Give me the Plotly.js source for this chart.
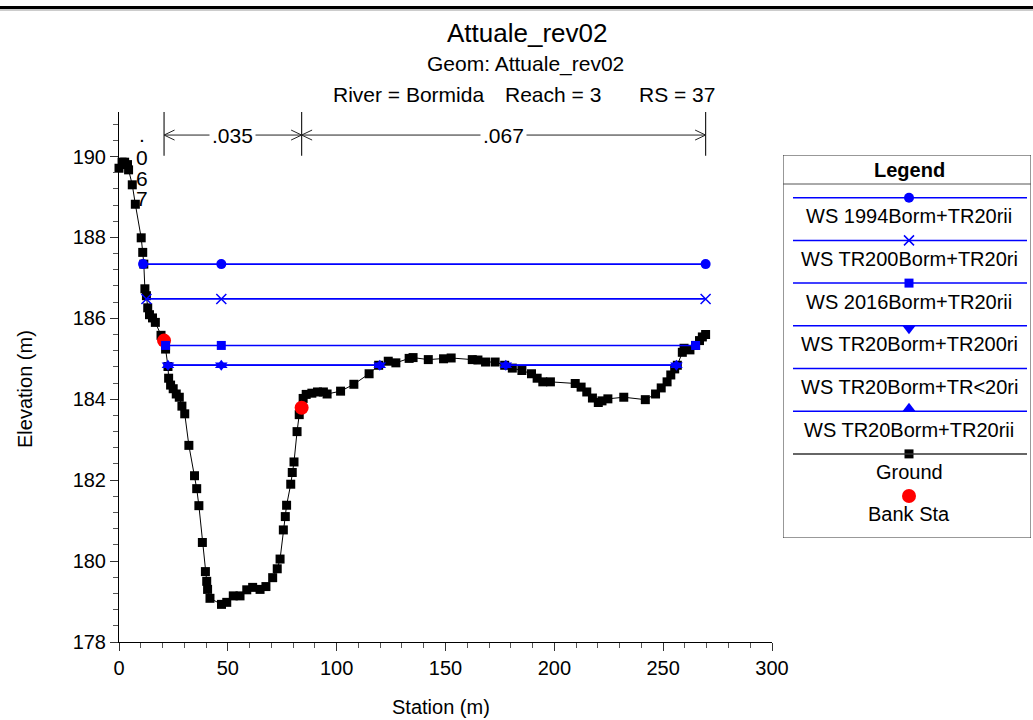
<!DOCTYPE html>
<html><head><meta charset="utf-8">
<script src="https://cdn.plot.ly/plotly-3.0.1.min.js"></script>
<style>html,body{margin:0;padding:0;background:#fff}#chart{width:1033px;height:720px}</style>
</head><body><div id="chart"></div>
<script>
// ---------------- data ----------------
const groundStation = [0, 1.4, 2.6, 3.9, 4.4, 6.1, 7.5, 10.2, 10.9, 11.4, 11.9, 12.6, 13.2, 14.0, 15.4, 16.7, 19.3, 21.4, 22.5, 22.8, 23.7, 24.9, 26.3, 27.7, 28.9, 30.2, 32.1, 34.7, 35.7, 36.7, 38.3, 39.7, 40.3, 40.7, 41.8, 47.1, 49.5, 52.5, 55.6, 58.7, 61.4, 64.8, 67.5, 70.6, 72.7, 74.0, 75.5, 76.4, 77.0, 78.9, 79.6, 80.4, 81.8, 82.8, 84.6, 86.0, 88.6, 91.2, 93.9, 95.6, 101.8, 107.9, 114.9, 119.3, 123.7, 127.2, 133.3, 135.1, 142.1, 149.1, 152.6, 162.3, 164.9, 168.4, 172.8, 177.2, 180.7, 185.1, 189.5, 192.1, 194.7, 198.2, 209.6, 212.3, 214.9, 217.5, 220.2, 221.9, 224.6, 231.9, 241.8, 246.5, 249.1, 251.8, 253.5, 255.3, 256.5, 258.8, 259.6, 262.3, 264.9, 266.7, 268.0, 269.5];
const groundElevation = [189.71, 189.86, 189.86, 189.80, 189.67, 189.30, 188.82, 187.99, 187.63, 187.34, 186.73, 186.56, 186.26, 186.09, 186.01, 185.90, 185.58, 185.24, 184.81, 184.52, 184.35, 184.26, 184.13, 184.05, 183.83, 183.64, 182.86, 182.11, 181.79, 181.37, 180.46, 179.74, 179.50, 179.30, 179.08, 178.93, 178.98, 179.14, 179.14, 179.29, 179.35, 179.30, 179.37, 179.59, 179.81, 180.05, 180.77, 181.10, 181.38, 181.90, 182.19, 182.45, 183.20, 183.62, 184.02, 184.12, 184.15, 184.18, 184.18, 184.13, 184.20, 184.37, 184.63, 184.84, 184.94, 184.90, 185.01, 185.03, 184.98, 185.00, 185.02, 184.98, 184.97, 184.92, 184.92, 184.84, 184.77, 184.71, 184.63, 184.52, 184.43, 184.43, 184.39, 184.30, 184.18, 184.03, 183.92, 183.96, 184.01, 184.05, 183.99, 184.13, 184.28, 184.43, 184.60, 184.75, 184.84, 185.16, 185.26, 185.22, 185.33, 185.45, 185.54, 185.60];
const bankStation = [20.7, 83.9];
const bankElevation = [185.45, 183.79];

const ws1994Station = [11.05, 47.0, 269.5];
const ws1994Elevation = [187.34, 187.34, 187.34];
const wsTR200Station = [12.6, 47.0, 269.5];
const wsTR200Elevation = [186.48, 186.48, 186.48];
const ws2016Station = [21.4, 47.0, 264.9];
const ws2016Elevation = [185.33, 185.33, 185.33];
const wsTR20Station = [22.5, 47.0, 119.8, null, 177.7, 256.1];
const wsTR20Elevation = [184.84, 184.84, 184.84, null, 184.84, 184.84];

const seriesNames = ['WS 1994Borm+TR20rii', 'WS TR200Borm+TR20ri', 'WS 2016Borm+TR20rii',
  'WS TR20Borm+TR200ri', 'WS TR20Borm+TR<20ri', 'WS TR20Borm+TR20rii', 'Ground', 'Bank Sta'];

const nBreaks = [0, 20.7, 83.9, 269.5];
const nValues = ['.067', '.035', '.067'];

const titleText = 'Attuale_rev02';
const geomText = 'Geom: Attuale_rev02';
const riverText = 'River = Bormida';
const reachText = 'Reach = 3';
const rsText = 'RS = 37';
const xTitle = 'Station (m)';
const yTitle = 'Elevation (m)';

// ---------------- layout helpers ----------------
const W = 1033, H = 720, ML = 119, MR = 0, MT = 112, MB = 78;
const PW = W - ML - MR, PH = H - MT - MB;
const px2x = px => (px - ML) / PW;
const px2y = py => (H - MB - py) / PH;
const plotRight = 772;
const yRange = [178, 191.1];
const pxPerY = PH / (yRange[1] - yRange[0]);
const pxPerX = (plotRight - ML) / 300;
const pyToElev = py => yRange[0] + (H - MB - py) / pxPerY;

const FONT = 'Liberation Sans, Arial, sans-serif';
const BLUE = '#0000ff';

const styles = [
  {symbol: 'circle', size: 10, color: BLUE},
  {symbol: 'x-thin', size: 10, color: BLUE},
  {symbol: 'square', size: 9, color: BLUE},
  {symbol: 'triangle-down', size: 11, color: BLUE},
  {symbol: null, size: 0, color: BLUE},
  {symbol: 'triangle-up', size: 11, color: BLUE},
  {symbol: 'square', size: 9, color: '#000'},
  {symbol: 'circle', size: 14, color: '#ff0000'}
];

function markerOf(s, sz) {
  const size = sz || s.size;
  if (!s.symbol) return {size: 0, opacity: 0};
  if (s.symbol === 'x-thin') return {symbol: 'x-thin', size: size, line: {color: s.color, width: 1.5}};
  return {symbol: s.symbol, size: size, color: s.color};
}

const wsData = [
  [ws1994Station, ws1994Elevation],
  [wsTR200Station, wsTR200Elevation],
  [ws2016Station, ws2016Elevation],
  [wsTR20Station, wsTR20Elevation],
  [wsTR20Station, wsTR20Elevation],
  [wsTR20Station, wsTR20Elevation]
];

const traces = [];
traces.push({x: groundStation, y: groundElevation, type: 'scatter', mode: 'lines+markers',
  line: {color: '#000', width: 1}, marker: markerOf(styles[6]), hoverinfo: 'skip', cliponaxis: false});
traces.push({x: bankStation, y: bankElevation, type: 'scatter', mode: 'markers',
  marker: markerOf(styles[7]), hoverinfo: 'skip', cliponaxis: false});
wsData.forEach((d, i) => {
  const s = styles[i];
  traces.push({x: d[0], y: d[1], type: 'scatter', mode: s.symbol ? 'lines+markers' : 'lines',
    line: {color: BLUE, width: 1.6}, marker: markerOf(s), connectgaps: false, hoverinfo: 'skip', cliponaxis: false});
});

// ---------------- custom legend (pixel coordinates on x2/y2) ----------------
const LG = {left: 783, right: 1031, top: 155, bottom: 538, headerLine: 184, first: 197.7, step: 42.7, textOff: 18.5, cx: 909, lineL: 793, lineR: 1027};
const shapes = [];
const annotations = [];
shapes.push({type: 'rect', xref: 'x2', yref: 'y2', x0: LG.left, x1: LG.right, y0: LG.top, y1: LG.bottom, line: {color: '#333', width: 1}});
shapes.push({type: 'line', xref: 'x2', yref: 'y2', x0: LG.left, x1: LG.right, y0: LG.headerLine, y1: LG.headerLine, line: {color: '#555', width: 1}});
annotations.push({xref: 'x2', yref: 'y2', x: LG.cx, y: (LG.top + LG.headerLine) / 2, text: '<b>Legend</b>', showarrow: false,
  font: {family: FONT, size: 20, color: '#000'}, xanchor: 'center', yanchor: 'middle'});
seriesNames.forEach((name, i) => {
  const s = styles[i];
  let ly = LG.first + LG.step * i;
  let ty = ly + LG.textOff;
  if (i === 7) { ly = 496; ty = 514; }
  if (i < 7) {
    shapes.push({type: 'line', xref: 'x2', yref: 'y2', x0: LG.lineL, x1: LG.lineR, y0: ly, y1: ly,
      line: {color: i === 6 ? '#333' : BLUE, width: 1.5}});
  }
  if (s.symbol) {
    let my = ly;
    let sz = s.size;
    if (s.symbol === 'triangle-down') { my = ly + 3; }
    if (s.symbol === 'triangle-up') { my = ly - 3; }
    traces.push({x: [LG.cx], y: [my], xaxis: 'x2', yaxis: 'y2', type: 'scatter', mode: 'markers',
      marker: markerOf(s, sz), hoverinfo: 'skip', cliponaxis: false});
  }
  annotations.push({xref: 'x2', yref: 'y2', x: LG.cx, y: ty, text: name.replace(/</g, '&lt;'), showarrow: false,
    font: {family: FONT, size: 20, color: '#000'}, xanchor: 'center', yanchor: 'middle'});
});

// ---------------- Manning n brackets ----------------
const yTop = yRange[1], yBot = 190.02, yArr = 190.53;
const ahL = 10.5 / pxPerX, ahH = 5 / pxPerY;
for (let k = 1; k < nBreaks.length; k++) {
  shapes.push({type: 'line', xref: 'x', yref: 'y', x0: nBreaks[k], x1: nBreaks[k], y0: yBot, y1: yTop, line: {color: '#222', width: 1.2}});
}
for (let i = 0; i < nValues.length; i++) {
  const a = nBreaks[i], b = nBreaks[i + 1];
  if (i === 0) {
    const chars = nValues[i].split('');
    const basePy = [134, 157, 178, 198];
    chars.forEach((c, j) => {
      annotations.push({xref: 'x', yref: 'y', x: 10.5, y: pyToElev(basePy[j]), text: c, showarrow: false,
        font: {family: FONT, size: 21, color: '#000'}, xanchor: 'center', yanchor: 'middle'});
    });
    continue;
  }
  shapes.push({type: 'line', xref: 'x', yref: 'y', x0: a, x1: b, y0: yArr, y1: yArr, line: {color: '#222', width: 1}});
  shapes.push({type: 'path', xref: 'x', yref: 'y', path: `M ${a + ahL},${yArr + ahH} L ${a},${yArr} L ${a + ahL},${yArr - ahH}`, line: {color: '#222', width: 1}});
  shapes.push({type: 'path', xref: 'x', yref: 'y', path: `M ${b - ahL},${yArr + ahH} L ${b},${yArr} L ${b - ahL},${yArr - ahH}`, line: {color: '#222', width: 1}});
  annotations.push({xref: 'x', yref: 'y', x: (a + b) / 2, y: yArr, text: nValues[i], showarrow: false, bgcolor: '#fff', borderpad: 2,
    font: {family: FONT, size: 21, color: '#000'}, xanchor: 'center', yanchor: 'middle'});
}

// ---------------- titles ----------------
const T = (text, px, py, size, anchor) => ({xref: 'paper', yref: 'paper', x: px2x(px), y: px2y(py), text: text, showarrow: false,
  font: {family: FONT, size: size, color: '#000'}, xanchor: anchor || 'center', yanchor: 'middle'});
annotations.push(T(titleText, 527, 33, 26));
annotations.push(T(geomText, 525, 64, 21));
annotations.push(T(riverText, 331, 94, 21, 'left'));
annotations.push(T(reachText, 503, 94, 21, 'left'));
annotations.push(T(rsText, 637, 94, 21, 'left'));
annotations.push(T(xTitle, 441, 707, 20));
annotations.push(Object.assign(T(yTitle, 25, 389, 20), {textangle: -90}));

// top frame line
shapes.push({type: 'line', xref: 'paper', yref: 'paper', x0: px2x(0), x1: px2x(W), y0: px2y(7.5), y1: px2y(7.5), line: {color: '#000', width: 3}});
shapes.push({type: 'line', xref: 'paper', yref: 'paper', x0: px2x(0), x1: px2x(W), y0: px2y(10), y1: px2y(10), line: {color: '#999', width: 1}});

const layout = {
  width: W, height: H, showlegend: false,
  margin: {l: ML, r: MR, t: MT, b: MB, pad: 0},
  paper_bgcolor: '#fff', plot_bgcolor: '#fff',
  xaxis: {domain: [0, px2x(plotRight)], range: [0, 300], dtick: 50, tick0: 0, showgrid: false, zeroline: false,
    showline: true, linecolor: '#000', linewidth: 1, ticks: 'outside', ticklen: 8, tickcolor: '#333', tickwidth: 1,
    minor: {dtick: 10, ticks: 'outside', ticklen: 5, tickcolor: '#555', tickwidth: 1, showgrid: false},
    tickfont: {family: FONT, size: 20, color: '#000'}, fixedrange: true},
  yaxis: {range: yRange, dtick: 2, tick0: 178, showgrid: false, zeroline: false,
    showline: true, linecolor: '#000', linewidth: 1, ticks: 'outside', ticklen: 8, tickcolor: '#333', tickwidth: 1,
    minor: {dtick: 0.4, ticks: 'outside', ticklen: 5, tickcolor: '#555', tickwidth: 1, showgrid: false},
    tickfont: {family: FONT, size: 20, color: '#000'}, fixedrange: true},
  xaxis2: {domain: [px2x(LG.left), px2x(LG.right)], range: [LG.left, LG.right], visible: false, fixedrange: true, anchor: 'y2'},
  yaxis2: {domain: [px2y(LG.bottom), px2y(LG.top)], range: [LG.bottom, LG.top], visible: false, fixedrange: true, anchor: 'x2'},
  shapes: shapes, annotations: annotations
};

Plotly.newPlot('chart', traces, layout, {displayModeBar: false, staticPlot: true});
</script>
</body></html>
